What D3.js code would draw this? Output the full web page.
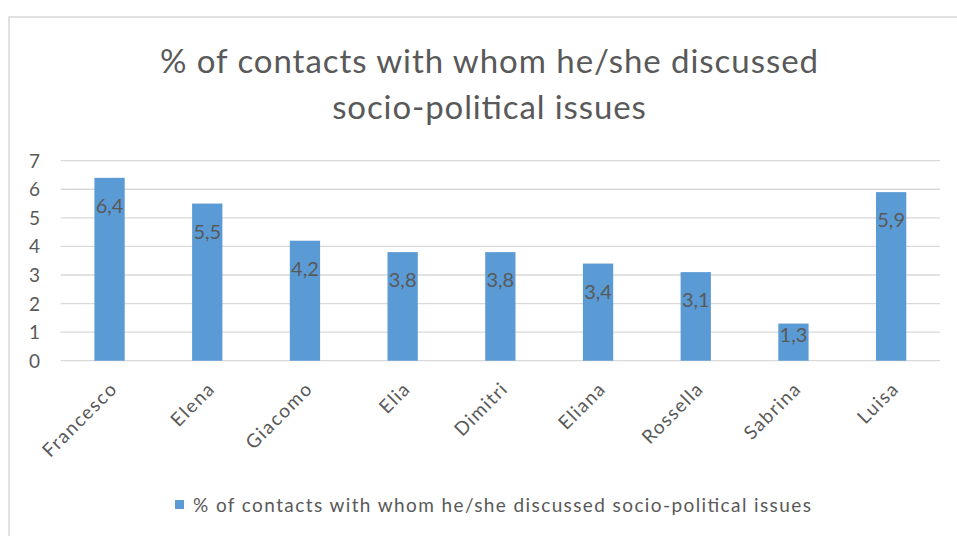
<!DOCTYPE html>
<html><head><meta charset="utf-8">
<script src="https://cdn.jsdelivr.net/npm/d3@7"></script>
<style>body{margin:0;background:#fff}svg{display:block}</style>
</head><body>
<svg id="c" width="957" height="536"></svg>
<script>
const categories = ["Francesco","Elena","Giacomo","Elia","Dimitri","Eliana","Rossella","Sabrina","Luisa"];
const values = [6.4,5.5,4.2,3.8,3.8,3.4,3.1,1.3,5.9];
const valueLabels = ["6,4","5,5","4,2","3,8","3,8","3,4","3,1","1,3","5,9"];
const yTicks = [0,1,2,3,4,5,6,7];
const titleLines = ["% of contacts with whom he/she discussed","socio-political issues"];
const seriesName = "% of contacts with whom he/she discussed socio-political issues";

const svg = d3.select("#c");
const font = "Lato, 'Open Sans', sans-serif";
const grey = "#595959";
function widen(sel, f){ sel.each(function(){ const w=this.getComputedTextLength(); d3.select(this).attr("textLength", w*f).attr("lengthAdjust","spacing"); }); }

svg.append("rect").attr("x",9).attr("y",17).attr("width",1000).attr("height",600)
  .attr("fill","#fff").attr("stroke","#d9d9d9").attr("stroke-width",1.5);

const x = d3.scaleBand().domain(categories).range([60.7,940]).paddingInner(0.69).paddingOuter(0.345);
const y = d3.scaleLinear().domain([0,7]).range([360.7,160.7]);

svg.append("g").selectAll("line").data(yTicks).join("line")
  .attr("x1",60.7).attr("x2",940).attr("y1",d=>y(d)).attr("y2",d=>y(d))
  .attr("stroke","#d9d9d9").attr("stroke-width",1.3);

svg.append("g").selectAll("text").data(yTicks).join("text")
  .attr("x",40).attr("y",d=>y(d)+7).attr("text-anchor","end")
  .attr("font-family",font).attr("font-size",19).attr("fill",grey).text(d=>d);

svg.append("g").selectAll("rect").data(values).join("rect")
  .attr("x",(d,i)=>x(categories[i])).attr("width",x.bandwidth())
  .attr("y",d=>y(d)).attr("height",d=>y(0)-y(d)).attr("fill","#5b9bd5");

svg.append("g").selectAll("text").data(values).join("text")
  .attr("x",(d,i)=>x(categories[i])+x.bandwidth()/2).attr("y",d=>Math.min(y(d)+35, y(0)-19))
  .attr("text-anchor","middle").attr("font-family",font).attr("font-size",20).attr("fill",grey)
  .text((d,i)=>valueLabels[i]);

const xl = svg.append("g").selectAll("text").data(categories).join("text")
  .attr("transform",d=>`translate(${x(d)+x.bandwidth()/2+8},${391}) rotate(-45)`)
  .attr("text-anchor","end").attr("font-family",font).attr("font-size",19).attr("fill",grey)
  .text(d=>d);
widen(xl, 1.14);

const tl = svg.append("g").selectAll("text").data(titleLines).join("text")
  .attr("x",489).attr("y",(d,i)=>73+i*46).attr("text-anchor","middle")
  .attr("font-family",font).attr("font-size",33).attr("fill",grey).text(d=>d);
widen(tl, 1.06);

svg.append("rect").attr("x",175).attr("y",500).attr("width",9).attr("height",9).attr("fill","#5b9bd5");
const lg = svg.append("text").attr("x",193).attr("y",512).attr("font-family",font).attr("font-size",19)
  .attr("fill",grey).text(seriesName);
widen(lg, 1.16);
</script>
</body></html>
